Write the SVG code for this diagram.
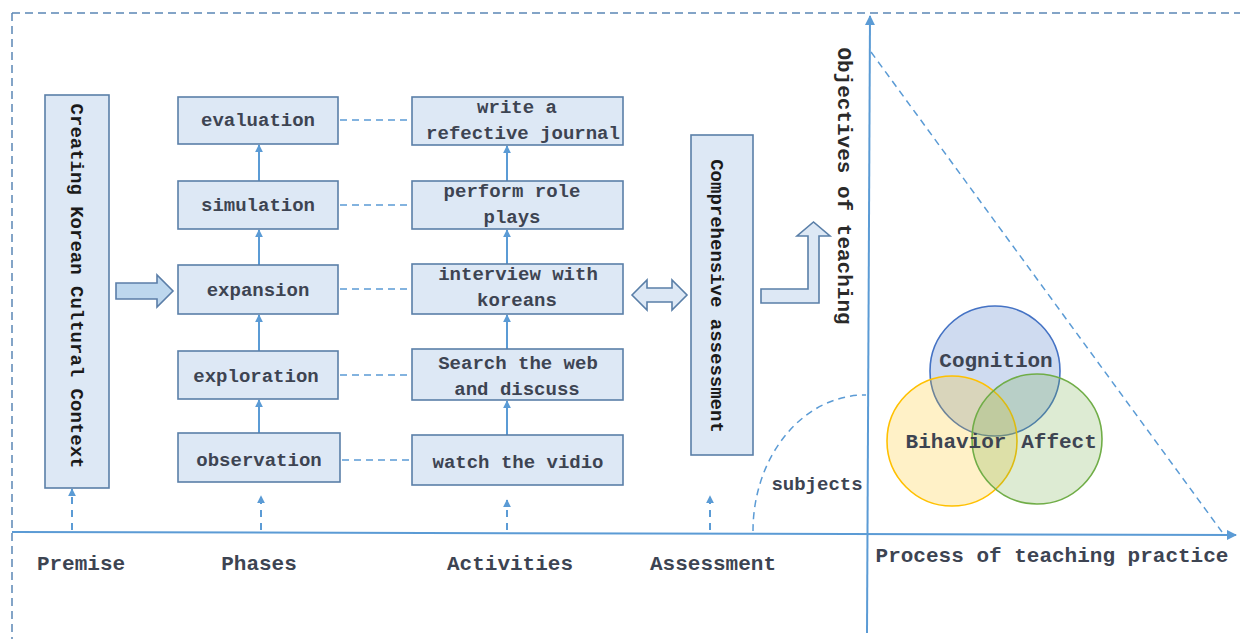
<svg xmlns="http://www.w3.org/2000/svg" width="1240" height="639" viewBox="0 0 1240 639">
  <defs>
    <marker id="tip" viewBox="0 0 10 10" refX="9" refY="5" markerWidth="8" markerHeight="8" markerUnits="userSpaceOnUse" orient="auto">
      <path d="M0,0 L10,5 L0,10 z" fill="#5b9bd5"/>
    </marker>
    <marker id="tipBig" viewBox="0 0 10 10" refX="9" refY="5" markerWidth="10" markerHeight="10" markerUnits="userSpaceOnUse" orient="auto">
      <path d="M0,0 L10,5 L0,10 z" fill="#5b9bd5"/>
    </marker>
    <style>
      .frame { fill: none; stroke: #5b86b5; stroke-width: 1.5; stroke-dasharray: 8 5; }
      .axis { fill: none; stroke: #5b9bd5; stroke-width: 2; }
      .dash { fill: none; stroke: #5b9bd5; stroke-width: 1.5; stroke-dasharray: 7 5; }
      .up { fill: none; stroke: #5b9bd5; stroke-width: 2; marker-end: url(#tip); }
      .updash { fill: none; stroke: #5b9bd5; stroke-width: 2; stroke-dasharray: 7 6; marker-end: url(#tip); }
      .box { fill: #dde8f5; stroke: #5a7fa8; stroke-width: 1.6; }
      .blk { fill: #dde8f5; stroke: #5a7fa8; stroke-width: 1.6; }
      .lbl { font-family: "Liberation Mono", "DejaVu Sans Mono", monospace; font-weight: bold; font-size: 19px; fill: #3d4452; text-anchor: middle; }
      .vlbl { font-family: "Liberation Mono", "DejaVu Sans Mono", monospace; font-weight: bold; font-size: 19px; fill: #1a1a1a; text-anchor: middle; }
      .axlbl { font-family: "Liberation Mono", "DejaVu Sans Mono", monospace; font-weight: bold; font-size: 21px; fill: #3d4452; text-anchor: middle; }
    </style>
  </defs>

  <!-- outer dashed frame -->
  <g id="frame">
    <line class="frame" x1="12" y1="13" x2="1240" y2="13"/>
    <line class="frame" x1="12" y1="13" x2="12" y2="639"/>
  </g>

  <!-- axes and guide lines -->
  <g id="axes">
    <line class="axis" x1="12" y1="532" x2="1236" y2="535" marker-end="url(#tipBig)"/>
    <line class="axis" x1="867" y1="633" x2="870" y2="16" marker-end="url(#tipBig)"/>
    <line class="dash" x1="871" y1="52" x2="1222" y2="532"/>
    <path class="dash" d="M753,531 A112,136 0 0 1 866,395"/>
  </g>

  <!-- connectors -->
  <g id="connectors">
    <!-- phase to activity links -->
    <line class="dash" x1="340" y1="120" x2="411" y2="120"/>
    <line class="dash" x1="340" y1="205" x2="411" y2="205"/>
    <line class="dash" x1="340" y1="289" x2="411" y2="289"/>
    <line class="dash" x1="340" y1="375" x2="411" y2="375"/>
    <line class="dash" x1="342" y1="460" x2="411" y2="460"/>
    <!-- phase progression -->
    <line class="up" x1="259" y1="181" x2="259" y2="145"/>
    <line class="up" x1="259" y1="265" x2="259" y2="230"/>
    <line class="up" x1="259" y1="351" x2="259" y2="315"/>
    <line class="up" x1="259" y1="433" x2="259" y2="400"/>
    <!-- activity progression -->
    <line class="up" x1="507" y1="181" x2="507" y2="146"/>
    <line class="up" x1="507" y1="264" x2="507" y2="230"/>
    <line class="up" x1="507" y1="349" x2="507" y2="315"/>
    <line class="up" x1="507" y1="435" x2="507" y2="401"/>
    <!-- from the baseline -->
    <line class="updash" x1="72" y1="530" x2="72" y2="489"/>
    <line class="updash" x1="261" y1="530" x2="261" y2="496"/>
    <line class="updash" x1="507" y1="530" x2="507" y2="500"/>
    <line class="updash" x1="710" y1="530" x2="710" y2="496"/>
    <!-- block arrows -->
    <polygon points="116,283 157,283 157,275 173,291 157,307 157,299 116,299" fill="#bdd7ee" stroke="#5b7ea8" stroke-width="1.6"/>
    <polygon class="blk" points="632,295 647,280 647,288 672,288 672,280 687,295 672,310 672,302 647,302 647,310"/>
    <polygon class="blk" points="761,289 808,289 808,236 797,236 813.5,222 830,236 819,236 819,303 761,303"/>
  </g>

  <!-- premise -->
  <g id="premise">
    <rect class="box" x="45" y="95" width="64" height="393"/>
    <text class="vlbl" transform="translate(77,286) rotate(90)" dy="6">Creating Korean Cultural Context</text>
  </g>

  <!-- phases -->
  <g id="phase-evaluation">
    <rect class="box" x="178" y="97" width="160" height="47"/>
    <text class="lbl" x="258" y="126">evaluation</text>
  </g>
  <g id="phase-simulation">
    <rect class="box" x="178" y="181" width="160" height="48"/>
    <text class="lbl" x="258" y="211">simulation</text>
  </g>
  <g id="phase-expansion">
    <rect class="box" x="178" y="265" width="160" height="49"/>
    <text class="lbl" x="258" y="296">expansion</text>
  </g>
  <g id="phase-exploration">
    <rect class="box" x="178" y="351" width="160" height="48"/>
    <text class="lbl" x="256" y="382">exploration</text>
  </g>
  <g id="phase-observation">
    <rect class="box" x="178" y="433" width="162" height="49"/>
    <text class="lbl" x="259" y="466">observation</text>
  </g>

  <!-- activities -->
  <g id="act-journal">
    <rect class="box" x="412" y="97" width="211" height="48"/>
    <text class="lbl" x="517" y="113">write a</text>
    <text class="lbl" x="523" y="139">refective journal</text>
  </g>
  <g id="act-roleplay">
    <rect class="box" x="412" y="181" width="211" height="48"/>
    <text class="lbl" x="512" y="197">perform role</text>
    <text class="lbl" x="512" y="223">plays</text>
  </g>
  <g id="act-interview">
    <rect class="box" x="412" y="264" width="211" height="50"/>
    <text class="lbl" x="518" y="280">interview with</text>
    <text class="lbl" x="517" y="306">koreans</text>
  </g>
  <g id="act-search">
    <rect class="box" x="412" y="349" width="211" height="51"/>
    <text class="lbl" x="518" y="369">Search the web</text>
    <text class="lbl" x="517" y="395">and discuss</text>
  </g>
  <g id="act-video">
    <rect class="box" x="412" y="435" width="211" height="50"/>
    <text class="lbl" x="518" y="468">watch the vidio</text>
  </g>

  <!-- assessment -->
  <g id="assessment">
    <rect class="box" x="691" y="135" width="62" height="320"/>
    <text class="vlbl" transform="translate(717,296) rotate(90)" dy="6">Comprehensive assessment</text>
  </g>

  <!-- objective domains -->
  <g id="domain-cognition">
    <circle cx="995" cy="371" r="65" fill="#4472c4" fill-opacity="0.26" stroke="#4472c4" stroke-width="1.6"/>
  </g>
  <g id="domain-bihavior">
    <circle cx="952" cy="441" r="65" fill="#ffc000" fill-opacity="0.22" stroke="#ffc000" stroke-width="1.6"/>
  </g>
  <g id="domain-affect">
    <circle cx="1037" cy="439" r="65" fill="#70ad47" fill-opacity="0.24" stroke="#70ad47" stroke-width="1.6"/>
  </g>
  <g id="domain-labels">
    <text class="axlbl" x="996" y="367">Cognition</text>
    <text class="axlbl" x="956" y="448">Bihavior</text>
    <text class="axlbl" x="1059" y="448">Affect</text>
  </g>

  <!-- axis labels -->
  <g id="axis-labels">
    <text class="axlbl" x="81" y="570">Premise</text>
    <text class="axlbl" x="259" y="570">Phases</text>
    <text class="axlbl" x="510" y="570">Activities</text>
    <text class="axlbl" x="713" y="570">Assessment</text>
    <text class="axlbl" x="1052" y="562">Process of teaching practice</text>
    <text class="lbl" x="817" y="490">subjects</text>
    <text class="axlbl" style="fill:#2a2a2a" transform="translate(845,186) rotate(90)" dy="7">Objectives of teaching</text>
  </g>
</svg>
